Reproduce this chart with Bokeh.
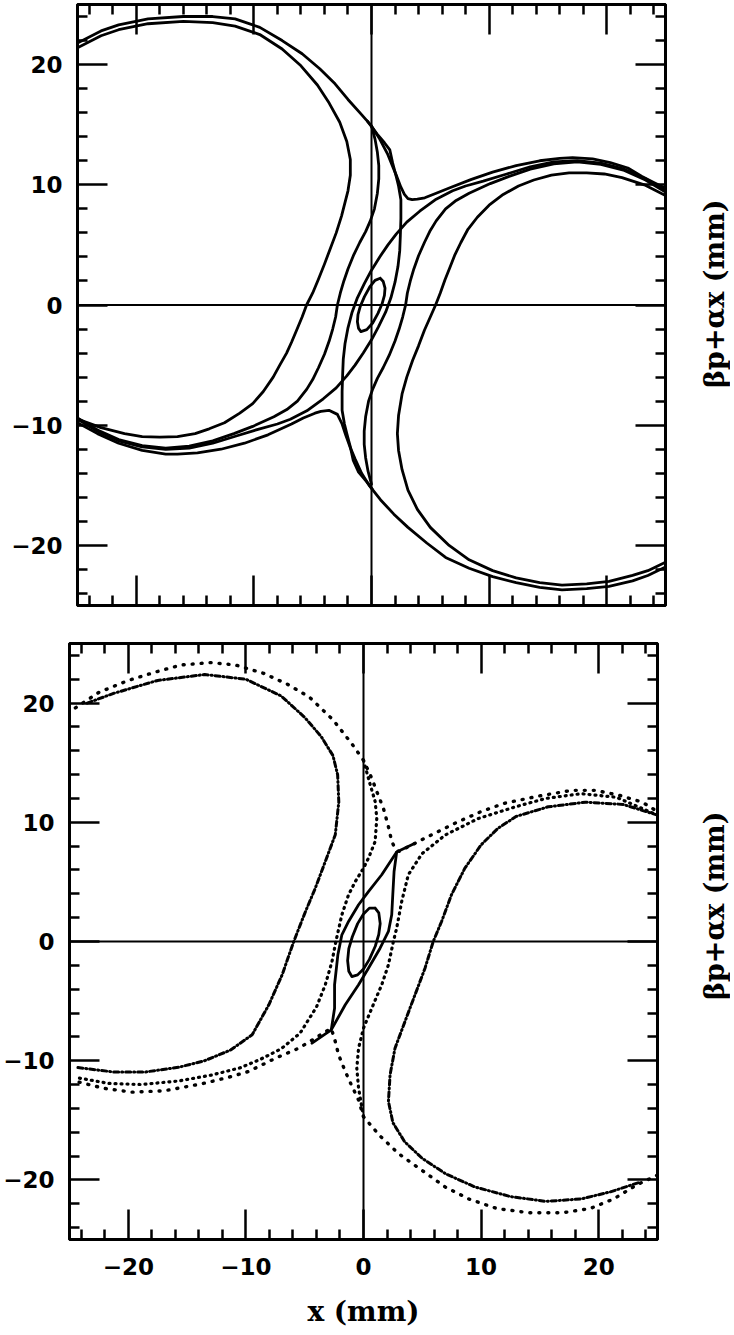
from bokeh.plotting import figure
from bokeh.layouts import column, row
from bokeh.models import Range1d, FixedTicker, LinearAxis, Span
from bokeh.core.properties import value
from bokeh.embed import file_html
from bokeh.resources import INLINE

# ---------------- data ----------------
y_ticks = [-20, -10, 0, 10, 20]
x_ticks = [-20, -10, 0, 10, 20]
tick_labels = {-20: "\u221220", -10: "\u221210", 0: "0", 10: "10", 20: "20"}
minor = [-24, -22, -18, -16, -14, -12, -8, -6, -4, -2, 2, 4, 6, 8, 12, 14, 16, 18, 22, 24]
y_title = "\u03b2p+\u03b1x  (mm)"
x_title = "x (mm)"

# ---- top panel: continuous orbits ----
t1_x = [-25.0, -23.0, -21.5, -19.0, -16.0, -13.5, -11.6, -9.5, -7.6, -5.9, -4.4, -3.1, -2.0, -0.9, 0.0, 0.7, 1.35, 1.85, 2.15, 2.5, 2.8, 3.1, 3.46, 3.9, 4.53, 5.5, 6.72, 8.5, 10.3, 12.3, 14.3, 16.0, 17.1, 18.8, 20.3, 21.8, 23.0, 24.0, 25.0]
t1_y = [21.8, 22.8, 23.3, 23.8, 24.0, 24.0, 23.8, 23.1, 22.0, 20.9, 19.65, 18.4, 17.1, 15.9, 14.9, 13.8, 12.6, 11.4, 10.7, 9.8, 9.2, 8.85, 8.76, 8.8, 8.92, 9.3, 9.78, 10.45, 11.05, 11.6, 12.0, 12.2, 12.26, 12.15, 11.85, 11.4, 10.7, 10.2, 9.7]
t1p_x = [25.0, 23.5, 22.2, 20.2, 18.3, 16.2, 14.3, 12.3, 10.3, 8.3, 6.3, 4.7, 3.1, 1.9, 0.76, -0.2, -0.84, -1.4, -1.83, -2.2, -2.5, -2.9, -3.62, -4.3, -4.81, -5.8, -6.8, -8.8, -10.8, -12.8, -14.8, -16.5, -17.5, -19.5, -21.5, -23.3, -25.0]
t1p_y = [-21.8, -22.5, -22.95, -23.4, -23.6, -23.7, -23.5, -23.1, -22.6, -21.9, -21.0, -19.8, -18.5, -17.4, -16.2, -15.0, -14.0, -12.8, -11.8, -10.8, -9.9, -9.1, -8.76, -8.85, -9.0, -9.4, -9.9, -10.8, -11.5, -12.0, -12.3, -12.4, -12.4, -12.1, -11.5, -10.7, -9.8]
l1_x = [-25.0, -23.0, -21.5, -19.0, -16.0, -13.5, -11.6, -9.5, -7.6, -6.0, -4.6, -3.6, -2.7, -2.1, -1.8, -1.8, -2.0, -2.55, -3.0, -3.54, -4.0, -4.53, -5.0, -5.52, -5.9, -6.37, -6.8, -7.22, -7.8, -8.36, -9.2, -10.1, -11.2, -12.5, -13.8, -15.0, -16.5, -18.0, -19.5, -21.0, -23.0, -25.0]
l1_y = [21.4, 22.4, 22.9, 23.4, 23.6, 23.5, 23.2, 22.5, 21.3, 19.9, 18.3, 16.8, 15.2, 13.6, 12.1, 10.8, 9.5, 7.4, 6.0, 4.6, 3.4, 2.1, 1.0, 0.0, -1.0, -2.1, -3.1, -4.0, -5.0, -6.0, -7.2, -8.2, -9.0, -9.8, -10.3, -10.7, -10.95, -11.0, -10.95, -10.7, -10.2, -9.5]
r2_x = [25.0, 23.5, 22.2, 20.2, 18.3, 16.2, 14.3, 12.3, 10.3, 8.3, 6.6, 5.0, 3.9, 3.1, 2.6, 2.3, 2.2, 2.3, 2.6, 3.0, 3.5, 4.0, 4.5, 5.0, 5.45, 5.85, 6.25, 6.7, 7.1, 7.6, 8.2, 9.0, 10.0, 11.2, 12.5, 13.8, 15.3, 16.8, 18.3, 19.8, 21.3, 23.2, 25.0]
r2_y = [-21.4, -22.1, -22.5, -23.0, -23.2, -23.3, -23.1, -22.7, -22.1, -21.2, -20.0, -18.5, -17.0, -15.4, -13.7, -12.1, -10.7, -9.2, -7.4, -6.0, -4.6, -3.4, -2.1, -1.0, 0.0, 1.0, 2.1, 3.2, 4.2, 5.2, 6.3, 7.3, 8.3, 9.2, 9.9, 10.4, 10.8, 11.0, 11.0, 10.9, 10.6, 10.0, 9.1]
l2_x = [-25.0, -23.3, -21.5, -19.5, -17.5, -15.5, -13.5, -11.7, -10.1, -8.3, -7.2, -6.3, -5.5, -5.0, -4.5, -4.0, -3.6, -3.3, -3.05, -2.9, -2.65, -2.35, -2.0, -1.5, -1.0, -0.5, -0.1, 0.25, 0.5, 0.62, 0.62, 0.5, 0.3, 0.0]
l2_y = [-9.4, -10.4, -11.2, -11.7, -11.9, -11.75, -11.3, -10.7, -10.1, -9.3, -8.7, -8.0, -7.0, -6.2, -5.2, -4.1, -3.0, -2.0, -1.0, 0.0, 1.0, 2.0, 3.0, 4.2, 5.2, 6.1, 7.0, 8.0, 9.3, 10.5, 11.6, 12.7, 13.8, 14.9]
r1_x = [25.0, 23.3, 21.5, 19.5, 17.5, 15.5, 13.5, 11.7, 10.1, 8.3, 7.2, 6.3, 5.5, 5.0, 4.5, 4.0, 3.6, 3.3, 3.05, 2.9, 2.65, 2.35, 2.0, 1.5, 1.0, 0.5, 0.1, -0.25, -0.5, -0.62, -0.62, -0.5, -0.3, 0.0]
r1_y = [9.4, 10.4, 11.2, 11.7, 11.9, 11.75, 11.3, 10.7, 10.1, 9.3, 8.7, 8.0, 7.0, 6.2, 5.2, 4.1, 3.0, 2.0, 1.0, 0.0, -1.0, -2.0, -3.0, -4.2, -5.2, -6.1, -7.0, -8.0, -9.3, -10.5, -11.6, -12.7, -13.8, -14.9]
du_x = [25.0, 23.3, 21.5, 19.5, 17.5, 15.5, 13.5, 11.5, 9.5, 8.0, 6.9, 5.5, 4.1, 3.0, 2.1, 1.4, 0.7, 0.0, -0.6, -1.2, -1.65, -2.0, -2.25, -2.4, -2.45, -2.5, -2.5, -2.3, -2.1, -1.8, -1.56, -1.1, -0.42, 0.05]
du_y = [9.5, 10.5, 11.3, 11.8, 12.0, 11.9, 11.5, 10.9, 10.3, 9.9, 9.5, 8.8, 7.8, 6.9, 5.9, 5.0, 4.0, 2.9, 1.8, 0.6, -0.6, -1.9, -3.2, -4.5, -5.7, -7.2, -8.75, -9.9, -10.7, -11.8, -12.9, -13.9, -14.7, -15.3]
dl_x = [-25.0, -23.3, -21.5, -19.5, -17.5, -15.5, -13.5, -11.5, -9.5, -8.0, -6.9, -5.5, -4.1, -3.0, -2.1, -1.4, -0.7, 0.0, 0.6, 1.2, 1.65, 2.0, 2.25, 2.4, 2.45, 2.5, 2.5, 2.3, 2.1, 1.8, 1.56, 1.1, 0.5, -0.35]
dl_y = [-9.5, -10.5, -11.3, -11.8, -12.0, -11.9, -11.5, -10.9, -10.3, -9.9, -9.5, -8.8, -7.8, -6.9, -5.9, -5.0, -4.0, -2.9, -1.8, -0.6, 0.6, 1.9, 3.2, 4.5, 5.7, 7.2, 8.75, 9.9, 10.7, 11.8, 12.9, 13.5, 14.2, 15.3]
el_x = [0.74, 1.0, 1.15, 1.1, 0.9, 0.55, 0.1, -0.4, -0.9, -1.1, -1.2, -1.15, -0.95, -0.6, -0.15, 0.3, 0.74]
el_y = [2.22, 1.95, 1.4, 0.8, 0.1, -0.7, -1.5, -2.05, -2.22, -1.95, -1.4, -0.8, -0.1, 0.7, 1.5, 2.05, 2.22]

# ---- bottom panel: tracked particles ----
bt1_x = [-24.5, -22.5, -20.0, -17.7, -15.5, -13.0, -10.9, -8.5, -6.5, -4.6, -2.6, -1.0, 0.0, 0.7, 1.2, 1.69, 2.1, 2.4, 2.7, 3.02, 3.5, 4.1, 5.79, 7.77, 10.0, 12.0, 14.9, 17.7, 19.7, 21.7, 23.7, 25.0]
bt1_y = [19.6, 20.9, 21.9, 22.6, 23.2, 23.4, 23.2, 22.5, 21.6, 20.5, 18.6, 16.6, 15.2, 13.7, 12.4, 11.18, 9.7, 8.39, 7.8, 7.55, 7.8, 8.1, 8.95, 9.92, 10.9, 11.6, 12.2, 12.68, 12.68, 12.28, 11.69, 10.9]
bt1p_x = [25.0, 23.26, 21.27, 19.28, 16.9, 14.1, 11.33, 8.95, 6.96, 4.97, 2.98, 1.39, 0.0, -0.42, -1.0, -1.55, -2.12, -2.45, -2.74, -3.3, -4.1, -5.5, -7.48, -9.75, -11.5, -13.72, -16.9, -19.68, -22.07, -24.45]
bt1p_y = [-19.6, -20.4, -21.6, -22.4, -22.76, -22.76, -22.4, -21.6, -20.6, -19.2, -17.8, -16.3, -14.7, -13.3, -12.1, -10.9, -9.5, -8.2, -7.3, -7.6, -8.11, -8.95, -9.79, -10.9, -11.4, -11.93, -12.52, -12.64, -12.32, -11.73]
bl1_x = [-23.5, -21.3, -17.5, -13.5, -10.0, -7.0, -5.0, -3.6, -2.6, -2.2, -2.1, -2.4, -3.25, -4.1, -4.94, -5.93, -6.92, -8.05, -9.47, -11.3, -13.5, -15.7, -18.5, -21.3, -24.5]
bl1_y = [20.0, 20.8, 21.9, 22.4, 22.0, 20.6, 18.8, 17.2, 15.6, 14.0, 11.7, 8.95, 6.7, 4.47, 2.5, 0.0, -2.8, -5.31, -7.83, -9.1, -10.0, -10.55, -10.94, -10.94, -10.55]
br2_x = [25.0, 22.07, 18.89, 15.71, 13.0, 11.44, 10.0, 8.62, 7.48, 6.64, 5.93, 5.23, 4.38, 3.53, 2.68, 2.26, 2.12, 2.5, 3.5, 5.0, 7.0, 9.5, 12.5, 15.5, 18.5, 21.0, 23.5]
br2_y = [10.6, 11.5, 11.69, 11.3, 10.5, 9.5, 8.11, 6.15, 3.92, 1.68, 0.0, -2.24, -4.47, -6.71, -8.95, -11.18, -13.42, -15.2, -16.8, -18.2, -19.5, -20.6, -21.4, -21.8, -21.6, -21.0, -20.2]
bl2_x = [0.0, 0.5, 0.99, 1.13, 0.99, 0.42, 0.0, -0.7, -1.27, -1.84, -2.35, -2.68, -3.25, -4.0, -5.4, -7.0, -8.8, -10.5, -12.9, -15.7, -18.9, -21.7, -24.5]
bl2_y = [15.2, 13.4, 11.74, 10.34, 8.39, 6.99, 6.15, 5.03, 3.92, 2.24, 0.0, -1.68, -3.63, -5.5, -7.7, -9.0, -9.9, -10.6, -11.2, -11.7, -12.0, -11.9, -11.4]
br1_x = [0.0, -0.42, -0.57, -0.42, 0.0, 0.7, 1.55, 2.12, 2.54, 2.82, 3.25, 3.81, 4.97, 6.96, 9.74, 12.92, 15.5, 18.5, 21.5, 25.0]
br1_y = [-14.7, -12.3, -10.63, -8.95, -7.27, -5.6, -3.63, -1.96, 0.0, 1.12, 3.36, 5.6, 7.36, 8.94, 10.31, 11.3, 12.0, 12.4, 12.1, 10.6]
lens_a_x = [4.38, 2.82, 1.55, 0.42, -0.42, -1.27, -1.84, -2.18, -2.46, -2.46, -2.74, -4.38]
lens_a_y = [8.25, 7.5, 5.6, 4.19, 3.08, 1.68, 0.56, -1.12, -3.63, -5.6, -7.41, -8.53]
lens_b_x = [-2.74, -1.55, -0.42, 0.42, 1.41, 2.12, 2.4, 2.49, 2.6, 2.82]
lens_b_y = [-7.41, -5.31, -3.63, -2.24, -0.56, 0.84, 2.24, 3.92, 5.87, 7.5]
bel_x = [0.99, 1.3, 1.42, 1.3, 1.0, 0.5, 0.0, -0.5, -0.99, -1.25, -1.35, -1.25, -0.95, -0.5, 0.0, 0.5, 0.99]
bel_y = [2.8, 2.4, 1.5, 0.6, -0.4, -1.5, -2.3, -2.8, -2.94, -2.5, -1.6, -0.6, 0.4, 1.5, 2.3, 2.8, 2.8]

FONT_T = "DejaVu Sans"
FONT_L = "DejaVu Serif"


def make_panel(width, height, bl, br, bt, bb, show_x_labels):
    p = figure(width=width, height=height, x_range=Range1d(-25, 25), y_range=Range1d(-25, 25),
               output_backend="svg", toolbar_location=None,
               min_border_left=bl, min_border_right=br, min_border_top=bt, min_border_bottom=bb,
               x_axis_location=None, y_axis_location=None)
    p.grid.visible = False
    p.outline_line_color = "black"
    p.outline_line_width = 3
    for side in ["left", "right", "above", "below"]:
        ax = LinearAxis(ticker=FixedTicker(ticks=x_ticks if side in ("above", "below") else y_ticks,
                                           minor_ticks=minor))
        ax.major_tick_in = 30
        ax.major_tick_out = 0
        ax.minor_tick_in = 10
        ax.minor_tick_out = 0
        ax.major_tick_line_width = 2.5
        ax.minor_tick_line_width = 2.5
        ax.axis_line_width = 3
        ax.major_label_text_color = "black"
        ax.axis_label_text_color = "black"
        labelled = side == "left" or (side == "below" and show_x_labels)
        if labelled:
            ax.major_label_overrides = tick_labels
            ax.major_label_text_font = FONT_T
            ax.major_label_text_font_style = "bold"
            ax.major_label_text_font_size = "23px"
            ax.major_label_standoff = 15 if side == "left" else 18
        else:
            ax.major_label_overrides = {t: "" for t in y_ticks}
            ax.major_label_standoff = 0
        p.add_layout(ax, side)
    p.add_layout(Span(location=0, dimension="height", line_color="black", line_width=2))
    p.add_layout(Span(location=0, dimension="width", line_color="black", line_width=2))
    return p


def make_title(height, ypos):
    t = figure(width=32, height=height, x_range=Range1d(0, 32), y_range=Range1d(0, height),
               output_backend="svg", toolbar_location=None, min_border=0,
               x_axis_location=None, y_axis_location=None)
    t.grid.visible = False
    t.outline_line_color = None
    t.text(x=[16], y=[ypos], text=[y_title], angle=90, angle_units="deg",
           text_align="center", text_baseline="middle", text_font=value(FONT_L),
           text_font_style="bold", text_font_size="27px", text_color="black")
    return t


# top panel
p1 = make_panel(698, 619, 77, 33, 4, 14, False)
for xs, ys in [(t1_x, t1_y), (t1p_x, t1p_y), (l1_x, l1_y), (r2_x, r2_y), (l2_x, l2_y),
               (r1_x, r1_y), (du_x, du_y), (dl_x, dl_y), (el_x, el_y)]:
    p1.line(xs, ys, line_color="black", line_width=2.8, line_join="round", line_cap="round")
lab1 = make_title(619, 326)

# bottom panel
p2 = make_panel(698, 715, 68, 41, 24, 95, True)
for xs, ys in [(bt1_x, bt1_y), (bt1p_x, bt1p_y)]:
    p2.line(xs, ys, line_color="black", line_width=3.4, line_dash="1 8", line_cap="round")
for xs, ys in [(bl2_x, bl2_y), (br1_x, br1_y)]:
    p2.line(xs, ys, line_color="black", line_width=3.2, line_dash="1 5", line_cap="round")
for xs, ys in [(bl1_x, bl1_y), (br2_x, br2_y)]:
    p2.line(xs, ys, line_color="black", line_width=3.0, line_dash="5 3 1 3", line_cap="round")
for xs, ys in [(lens_a_x, lens_a_y), (lens_b_x, lens_b_y), (bel_x, bel_y)]:
    p2.line(xs, ys, line_color="black", line_width=2.8, line_join="round", line_cap="round")
ax_b = p2.below[0]
ax_b.axis_label = x_title
ax_b.axis_label_text_font = FONT_L
ax_b.axis_label_text_font_style = "bold"
ax_b.axis_label_text_font_size = "28px"
ax_b.axis_label_standoff = 17
lab2 = make_title(715, 406)

layout = column(row(p1, lab1), row(p2, lab2))
open("out.html", "w").write(file_html(layout, INLINE))
